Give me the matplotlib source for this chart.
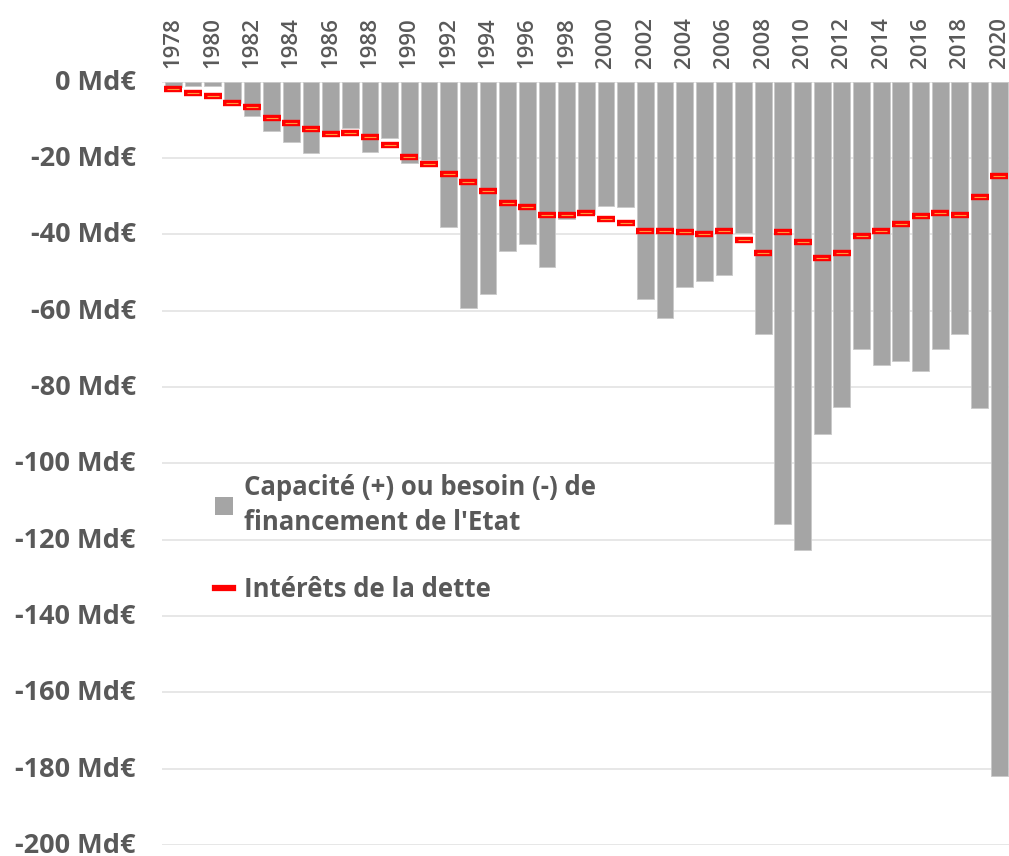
import matplotlib
matplotlib.use("Agg")
import matplotlib.pyplot as plt
from matplotlib.lines import Line2D
from matplotlib.patches import Patch
from matplotlib.transforms import ScaledTranslation

years = list(range(1978, 2021))
besoin = [-1.5, -1.0, -1.0, -5.5, -8.9, -12.8, -15.8, -18.8, -13.1, -12.0,
          -18.3, -14.8, -21.2, -20.4, -38.1, -59.4, -55.5, -44.3, -42.6, -48.5,
          -36.0, -34.6, -32.6, -32.8, -57.0, -62.0, -53.7, -52.2, -50.7, -39.7,
          -66.0, -116.0, -122.8, -92.4, -85.3, -70.0, -74.1, -73.1, -75.8, -70.0,
          -66.0, -85.4, -182.0]
interets = [-2.0, -3.0, -3.8, -5.7, -6.5, -9.4, -10.9, -12.5, -13.7, -13.5,
            -14.4, -16.6, -19.7, -21.6, -24.3, -26.2, -28.6, -31.9, -32.9, -35.0,
            -34.8, -34.3, -36.0, -36.9, -39.0, -39.0, -39.3, -40.0, -39.0, -41.5,
            -45.0, -39.3, -42.1, -46.1, -45.0, -40.4, -39.0, -37.3, -35.1, -34.5,
            -34.8, -30.1, -24.6]
yticks = list(range(0, -201, -20))
ytick_labels = [f"{v} Md€" for v in yticks]
xtick_years = list(range(1978, 2021, 2))
label_bars = "Capacité (+) ou besoin (-) de\nfinancement de l'Etat"
label_int = "Intérêts de la dette"

plt.rcParams['font.family'] = ['Open Sans', 'DejaVu Sans']
txt = '#595959'

fig = plt.figure(figsize=(10.09, 8.56), dpi=100)
ax = fig.add_axes([0.1606, 0.01285, 0.8394, 0.8917])

ax.bar(years, besoin, width=0.85, color='#a5a5a5', edgecolor='#c9c9c9', linewidth=0.6, zorder=2)
ax.plot(years, interets, ls='none', marker='_', ms=12.5, mew=4.6, color='#ff0000', zorder=3)
ax.plot(years, interets, ls='none', marker='_', ms=8, mew=0.8, color='#ff9a3c', zorder=4)

ax.set_ylim(-200, 0)
ax.set_xlim(1977.43, 2020.5)
ax.set_yticks(yticks)
ax.set_yticklabels(ytick_labels, fontsize=19.5, fontweight='bold', color=txt)
ax.set_xticks(xtick_years)
ax.set_xticklabels([str(y) for y in xtick_years], rotation=90, fontsize=16,
                   fontweight='semibold', color=txt)
ax.xaxis.tick_top()
ax.tick_params(axis='x', length=0, pad=10)
ax.tick_params(axis='y', length=0, pad=19)
for lab in ax.get_yticklabels():
    lab.set_transform(lab.get_transform() + ScaledTranslation(0, 2 / 100, fig.dpi_scale_trans))
for s in ax.spines.values():
    s.set_visible(False)
ax.grid(axis='y', color='#e3e3e3', linewidth=1.2, zorder=0)
ax.set_axisbelow(True)

handles = [Patch(facecolor='#a5a5a5', edgecolor='none'),
           Line2D([0], [0], color='#ff0000', lw=4.5)]
leg = ax.legend(handles, [label_bars, label_int], loc='upper left',
                bbox_to_anchor=(0.035, 0.517), frameon=False,
                prop={'size': 18.5, 'weight': 'bold'}, labelcolor=txt,
                handlelength=0.7, handleheight=0.7, handletextpad=0.45,
                labelspacing=1.55)
for t in leg.get_texts():
    t.set_linespacing(1.4)

fig.savefig('out.png', dpi=100)
